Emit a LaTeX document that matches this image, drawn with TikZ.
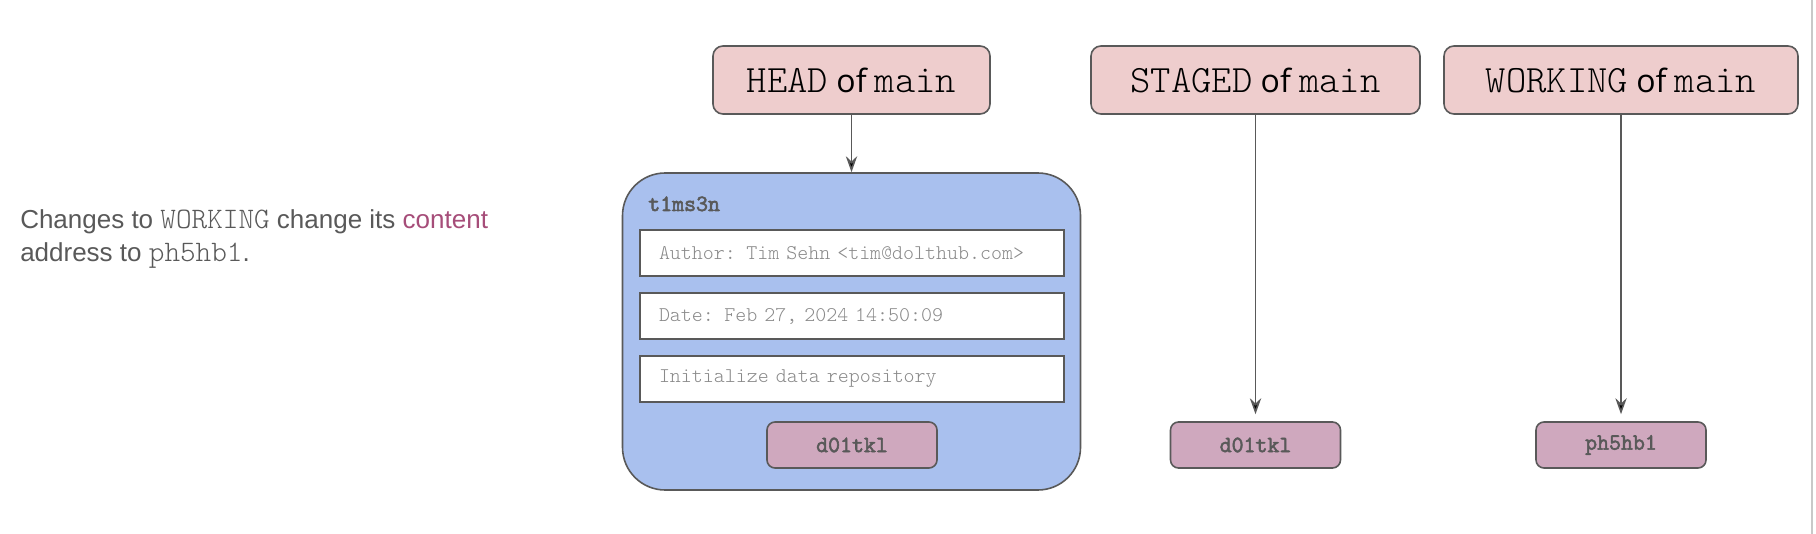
\documentclass[tikz,border=0pt]{standalone}
\usepackage{fontspec}
\setmainfont{Liberation Sans}
\newfontfamily\ofsans{Open Sans}
\newfontfamily\lightmono{Latin Modern Mono Light}
\newfontfamily\hashfont{Latin Modern Mono}[FakeBold=2.5]
\usepackage{tikz}
\usetikzlibrary{arrows.meta}
\definecolor{edgegray}{HTML}{595959}
\definecolor{textgray}{HTML}{595959}
\definecolor{rowgray}{HTML}{8A8A8A}
\definecolor{refred}{HTML}{EECDCD}
\definecolor{commitblue}{HTML}{A9C0EE}
\definecolor{hashpink}{HTML}{CFA8BE}
\definecolor{linkpurple}{HTML}{A64D79}
\definecolor{pagegray}{HTML}{C8C8C8}
\newcommand{\refmono}[1]{{\lightmono\fontsize{29}{30}\selectfont #1}}
\newcommand{\paramono}[1]{{\lightmono\fontsize{22.3}{24}\selectfont #1}}
\tikzstyle{ref}=[draw=edgegray, line width=1.2pt, fill=refred, rounded corners=7.5pt, minimum height=51pt, inner sep=0pt, font=\ofsans\fontsize{24}{28}\selectfont]
\tikzstyle{commit}=[draw=edgegray, line width=1.2pt, fill=commitblue, rounded corners=32pt, minimum width=343.5pt, minimum height=237.75pt]
\tikzstyle{row}=[draw=edgegray, line width=1.2pt, fill=white, minimum height=34.5pt, text width=289.5pt, inner xsep=14.25pt, inner ysep=0pt, align=left, text=rowgray, font=\lightmono\fontsize{15.7}{18}\selectfont]
\tikzstyle{hash}=[draw=edgegray, line width=1.2pt, fill=hashpink, rounded corners=6pt, minimum width=127.5pt, minimum height=34.5pt, inner sep=0pt, text=textgray, font=\hashfont\fontsize{17.4}{20}\selectfont]
\tikzstyle{para}=[anchor=base west, inner sep=0pt, text=textgray, font=\fontsize{19.5}{24}\selectfont]
\tikzstyle{arrow}=[draw=edgegray, line width=1.2pt, >={Stealth[length=12pt, width=8.5pt, inset=4pt]}]

\begin{document}
\begin{tikzpicture}[x=0.75pt, y=-0.75pt]
	\path [fill=white, use as bounding box] (0, 0) rectangle (1816, 534);
	\draw [pagegray, line width=1.5pt] (1812, 0) -- (1812, 534);
	\begin{scope}
		\node (para1) at (20, 229)[para] {Changes to \paramono{WORKING} change its \textcolor{linkpurple}{content}};
		\node (para2) at (20, 262)[para] {address to \paramono{ph5hb1}.};
	\end{scope}
	\begin{scope}
		\node (head) at (851.5, 80)[ref, minimum width=207.75pt] {\refmono{HEAD} of \refmono{main}};
		\node (staged) at (1255.5, 80)[ref, minimum width=246.75pt] {\refmono{STAGED} of \refmono{main}};
		\node (working) at (1621, 80)[ref, minimum width=265.5pt] {\refmono{WORKING} of \refmono{main}};
	\end{scope}
	\begin{scope}
		\node (commit) at (851.5, 331.5)[commit] {};
		\node (commitid) at (648, 211)[anchor=base west, inner sep=0pt, text=textgray, font=\hashfont\fontsize{17.4}{20}\selectfont] {t1ms3n};
		\node (author) at (852, 253)[row] {Author: Tim Sehn <tim@dolthub.com>};
		\node (date) at (852, 316)[row] {Date: Feb 27, 2024 14:50:09};
		\node (message) at (852, 379)[row] {Initialize data repository};
		\node (headhash) at (852, 445)[hash] {d01tkl};
		\node (stagedhash) at (1255.5, 445)[hash] {d01tkl};
		\node (workinghash) at (1621, 445)[hash] {ph5hb1};
	\end{scope}
	\begin{scope}
		\path [arrow, ->] (head) edge (commit);
		\path [arrow, ->, shorten >=5.25pt] (staged) edge (stagedhash);
		\path [arrow, ->, shorten >=5.25pt] (working) edge (workinghash);
	\end{scope}
\end{tikzpicture}
\end{document}
